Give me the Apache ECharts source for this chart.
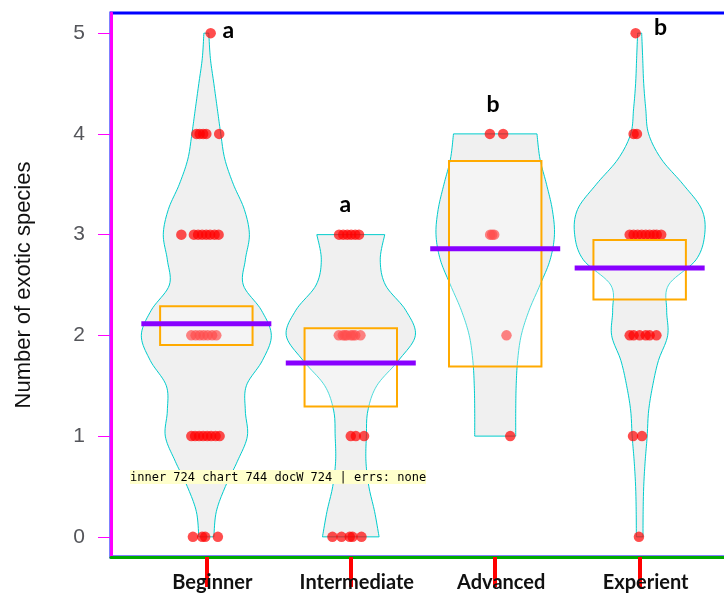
<!DOCTYPE html>
<html>
<head>
<meta charset="utf-8">
<script src="https://cdn.jsdelivr.net/npm/echarts@6/dist/echarts.min.js"></script>
<style>
  html, body { margin: 0; padding: 0; background: #ffffff; overflow: hidden; }
  #chart { width: 744px; height: 595px; }
  #log { position: absolute; left: 130px; top: 470px; font: 12px monospace; color: #000; background: #ffffcc; max-width: 580px; }
</style>
</head>
<body>
<div id="chart"></div>
<div id="log"></div>
<script>
const errs = [];
window.onerror = (m) => { errs.push(String(m)); };
const origErr = console.error;
console.error = (...a) => { errs.push(a.map(String).join(' ').slice(0, 120)); origErr.apply(console, a); };
const origWarn = console.warn;
console.warn = (...a) => { errs.push('W:' + a.map(String).join(' ').slice(0, 120)); origWarn.apply(console, a); };

const groups = ['Beginner', 'Intermediate', 'Advanced', 'Experient'];
const groupLetters = ['a', 'a', 'b', 'b'];
const groupMeans = [2.115, 1.726, 2.86, 2.669];
const intervalLow = [1.905, 1.293, 1.69, 2.356];
const intervalHigh = [2.29, 2.07, 3.73, 2.946];
const yTicks = [0, 1, 2, 3, 4, 5];
const beanBeginner = [
  [0, 0.052], [0.25, 0.069], [0.5, 0.132], [0.75, 0.215], [1, 0.284], [1.25, 0.27],
  [1.5, 0.277], [1.75, 0.388], [2, 0.45], [2.25, 0.381], [2.5, 0.256], [2.75, 0.27],
  [3, 0.298], [3.25, 0.263], [3.5, 0.187], [3.75, 0.128], [4, 0.1], [4.25, 0.076],
  [4.5, 0.052], [4.75, 0.028], [5, 0.017]
];
const beanIntermediate = [
  [0, 0.196], [0.25, 0.165], [0.5, 0.125], [0.75, 0.105], [1, 0.108], [1.25, 0.118],
  [1.5, 0.18], [1.75, 0.33], [2, 0.447], [2.25, 0.38], [2.5, 0.24], [2.75, 0.204],
  [3, 0.235]
];
const beanAdvanced = [
  [1, 0.142], [1.25, 0.142], [1.5, 0.145], [1.75, 0.155], [2, 0.18], [2.25, 0.235],
  [2.5, 0.31], [2.75, 0.38], [3, 0.41], [3.25, 0.395], [3.5, 0.355], [3.75, 0.31],
  [4, 0.289]
];
const beanExperient = [
  [0, 0.023], [0.25, 0.024], [0.5, 0.028], [0.75, 0.038], [1, 0.052], [1.25, 0.062],
  [1.5, 0.09], [1.75, 0.13], [2, 0.194], [2.25, 0.187], [2.5, 0.2], [2.75, 0.39],
  [3, 0.45], [3.25, 0.43], [3.5, 0.3], [3.75, 0.15], [4, 0.062], [4.25, 0.042],
  [4.5, 0.028], [4.75, 0.021], [5, 0.014]
];
const pointsBeginner = [
  [5, 0.03],
  [4, -0.069], [4, -0.046], [4, -0.022], [4, 0], [4, 0.089],
  [3, -0.173], [3, -0.086], [3, -0.057], [3, -0.029], [3, -0.001], [3, 0.026], [3, 0.057], [3, 0.085],
  [2, -0.104], [2, -0.074], [2, -0.046], [2, -0.019], [2, 0.009], [2, 0.04], [2, 0.069],
  [1, -0.104], [1, -0.078], [1, -0.05], [1, -0.022], [1, 0.006], [1, 0.033], [1, 0.064], [1, 0.092],
  [0, -0.093], [0, -0.029], [0, -0.008], [0, 0.08]
];
const pointsIntermediate = [
  [3, -0.081], [3, -0.052], [3, -0.024], [3, 0.003], [3, 0.031], [3, 0.057],
  [2, -0.083], [2, -0.055], [2, -0.028], [2, 0], [2, 0.031], [2, 0.067], [2, -0.04], [2, 0.015],
  [1, 0], [1, 0.035], [1, 0.092],
  [0, -0.127], [0, -0.064], [0, -0.007], [0, 0.012], [0, 0.074]
];
const pointsAdvanced = [
  [4, -0.037], [4, 0.055], [3, -0.035], [3, -0.021], [3, -0.007], [2, 0.078], [1, 0.104]
];
const pointsExperient = [
  [5, -0.028], [4, -0.042], [4, -0.019],
  [3, -0.069], [3, -0.042], [3, -0.014], [3, 0.014], [3, 0.042], [3, 0.069], [3, 0.097], [3, 0.118], [3, 0.149],
  [2, -0.069], [2, -0.042], [2, 0], [2, 0.042], [2, 0.069], [2, 0.116],
  [1, -0.046], [1, 0.016], [0, -0.005]
];
const beans = [beanBeginner, beanIntermediate, beanAdvanced, beanExperient];
const points = [pointsBeginner, pointsIntermediate, pointsAdvanced, pointsExperient];
const letterAnchors = [[1.152, 5.022], [1.963, 3.298], [2.985, 4.291], [4.144, 5.055]];

function smoothThrough(pts, steps) {
  const out = [];
  const n = pts.length;
  for (let i = 0; i < n - 1; i++) {
    const p0 = pts[Math.max(i - 1, 0)], p1 = pts[i], p2 = pts[i + 1], p3 = pts[Math.min(i + 2, n - 1)];
    for (let s = 0; s < steps; s++) {
      const t = s / steps, t2 = t * t, t3 = t2 * t;
      const c = (k) => 0.5 * (2 * p1[k] + (-p0[k] + p2[k]) * t +
        (2 * p0[k] - 5 * p1[k] + 4 * p2[k] - p3[k]) * t2 +
        (-p0[k] + 3 * p1[k] - 3 * p2[k] + p3[k]) * t3);
      out.push([c(0), c(1)]);
    }
  }
  out.push(pts[n - 1].slice());
  return out;
}
const scatterData = [];
points.forEach((list, gi) => list.forEach(([v, j]) => scatterData.push([gi + 1 + j, v])));
const groupItems = groups.map((g, i) => [i + 1, i]);

const chart = echarts.init(document.getElementById('chart'), null, { renderer: 'canvas' });
chart.setOption({
  animation: false,
  backgroundColor: '#ffffff',
  grid: {
    left: 111, top: 13, width: 624, height: 544,
    outerBoundsMode: 'none', containLabel: false,
    show: true, borderColor: '#0000ff', borderWidth: 3, backgroundColor: 'transparent'
  },
  xAxis: {
    type: 'value', min: 0.34, max: 4.66, position: 'bottom',
    axisLine: { show: true, onZero: false, lineStyle: { color: '#00aa00', width: 3 } },
    splitLine: { show: false },
    axisTick: { show: true, inside: false, customValues: [1, 2, 3, 4], length: 30, lineStyle: { color: '#ff0000', width: 4 } },
    axisLabel: {
      customValues: [1, 2, 3, 4],
      formatter: (v) => groups[Math.round(v) - 1] || '',
      margin: 16, fontFamily: 'Lato', fontWeight: 'bold', fontSize: 20, color: '#111111',
      padding: [0, 0, 0, 12]
    }
  },
  yAxis: {
    type: 'value', min: -0.2, max: 5.2, position: 'left',
    axisLine: { show: true, onZero: false, lineStyle: { color: '#ff00ff', width: 3 } },
    splitLine: { show: false },
    axisTick: { show: true, customValues: yTicks, length: 13 },
    axisLabel: { customValues: yTicks, margin: 26, fontFamily: 'Liberation Sans', fontSize: 21 },
    name: 'Number of exotic species',
    nameLocation: 'middle', nameGap: 76,
    nameTextStyle: { fontFamily: 'Liberation Sans', fontSize: 22, color: '#111111' }
  },
  series: [
    {
      type: 'custom', z: 1, silent: true, data: groupItems,
      renderItem: (params, api) => {
        const gi = api.value(1), cx = api.value(0);
        const r = smoothThrough(beans[gi].map(([v, w]) => api.coord([cx + w, v])), 10);
        const l = smoothThrough(beans[gi].map(([v, w]) => api.coord([cx - w, v])), 10).reverse();
        return { type: 'polygon', shape: { points: r.concat(l) }, style: { fill: '#f0f0f0', stroke: '#00cccc', lineWidth: 1 } };
      }
    },
    { type: 'scatter', z: 2, silent: true, data: scatterData, symbolSize: 10.5, itemStyle: { color: 'rgba(255,0,0,0.87)' } },
    {
      type: 'custom', z: 3, silent: true, data: groupItems,
      renderItem: (params, api) => {
        const gi = api.value(1), cx = api.value(0);
        const p1 = api.coord([cx - 0.32, intervalHigh[gi]]);
        const p2 = api.coord([cx + 0.32, intervalLow[gi]]);
        return { type: 'rect', shape: { x: p1[0], y: p1[1], width: p2[0] - p1[0], height: p2[1] - p1[1] }, style: { fill: 'rgba(255,255,255,0.3)', stroke: '#ffaa00', lineWidth: 2 } };
      }
    },
    {
      type: 'custom', z: 4, silent: true, data: groupItems,
      renderItem: (params, api) => {
        const gi = api.value(1), cx = api.value(0);
        const a = api.coord([cx - 0.45, groupMeans[gi]]);
        const b = api.coord([cx + 0.45, groupMeans[gi]]);
        return { type: 'line', shape: { x1: a[0], y1: a[1], x2: b[0], y2: b[1] }, style: { stroke: '#8800ff', lineWidth: 5 } };
      }
    },
    {
      type: 'custom', z: 5, silent: true, data: groupItems,
      renderItem: (params, api) => {
        const gi = api.value(1);
        const p = api.coord(letterAnchors[gi]);
        return { type: 'text', x: p[0], y: p[1], style: { text: groupLetters[gi], fill: '#000', fontFamily: 'Lato', fontWeight: 'bold', fontSize: 23, align: 'center', verticalAlign: 'middle' } };
      }
    }
  ]
});
setTimeout(() => {
  document.getElementById('log').textContent =
    'inner ' + window.innerWidth + ' chart ' + chart.getWidth() + ' docW ' + document.documentElement.scrollWidth +
    ' | errs: ' + (errs.length ? errs.join(' || ') : 'none');
}, 50);
</script>
</body>
</html>
